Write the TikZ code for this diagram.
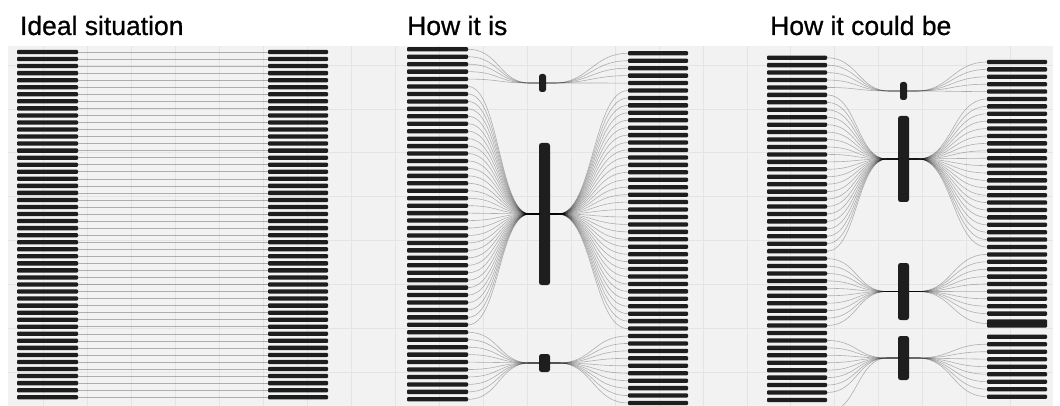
\documentclass[tikz,border=0pt]{standalone}
\usepackage{fontspec}
\setmainfont{Liberation Sans}
\newfontfamily\titlefont[FakeBold=0.7]{Liberation Sans}
\definecolor{panelbg}{HTML}{F2F2F2}
\definecolor{gridc}{HTML}{E4E4E4}
\definecolor{barc}{HTML}{1E1E1E}

\begin{document}
\begin{tikzpicture}[x=1pt,y=-1pt,
  bar/.style={rectangle, fill=barc, inner sep=0pt, outer sep=0pt,
              minimum height=4.3pt, rounded corners=1pt},
  hub/.style={rectangle, fill=barc, inner sep=0pt, outer sep=0pt,
              rounded corners=2.5pt},
  link/.style={draw=black, draw opacity=0.28, line width=0.6pt},
  title/.style={anchor=base west, inner sep=0pt,
                font=\titlefont\fontsize{26.5}{30}\selectfont}]

\useasboundingbox (0,0) rectangle (1060,406);

% backdrop and faint grid
\fill[panelbg] (8,46) rectangle (1053,406);
\foreach \k in {0,...,22}
  \draw[gridc, line width=0.8pt] ({43.7+43.95*\k},46) -- ({43.7+43.95*\k},406);
\foreach \k in {0,...,7}
  \draw[gridc, line width=0.8pt] (8,{65+43.95*\k}) -- (1053,{65+43.95*\k});

% titles
\node[title] (t1) at (19.8,35) {Ideal situation};
\node[title] (t2) at (407,35) {How it is};
\node[title] (t3) at (770,35) {How it could be};

% ---------- ideal: one-to-one ----------
\foreach \i in {1,...,50} {
  \pgfmathsetmacro\yy{52+7.045*(\i-1)}
  \node[bar, minimum width=61pt] (a-L\i) at (47.5,\yy) {};
  \node[bar, minimum width=60pt] (a-R\i) at (298,\yy) {};
  \draw[link] (a-L\i.east) -- (a-R\i.west);
}

% ---------- current: three hubs ----------
\node[hub, minimum width=7pt,  minimum height=18pt]  (b-H1) at (542.5,83)  {};
\node[hub, minimum width=11pt, minimum height=142pt] (b-H2) at (544.5,214) {};
\node[hub, minimum width=11pt, minimum height=18pt]  (b-H3) at (544.5,363) {};
\foreach \i in {1,...,48} {
  \pgfmathsetmacro\ya{49.3+7.447*(\i-1)}
  \pgfmathsetmacro\yb{53.3+7.44*(\i-1)}
  \node[bar, minimum width=61pt] (b-L\i) at (437.5,\ya) {};
  \node[bar, minimum width=60pt] (b-R\i) at (658,\yb) {};
}
\foreach \lo/\hi/\h in {1/5/1, 6/38/2, 39/48/3} {
  \foreach \i in {\lo,...,\hi} {
    \draw[link] (b-L\i.east) .. controls +(31,0) and +(-31,0)
      .. ([xshift=-9pt]b-H\h.west) -- (b-H\h.west);
    \draw[link] (b-H\h.east) -- ([xshift=8pt]b-H\h.east)
      .. controls +(35,0) and +(-35,0) .. (b-R\i.west);
  }
}

% ---------- proposed: four hubs ----------
\node[hub, minimum width=7pt,  minimum height=18pt] (c-H1) at (903.5,91)    {};
\node[hub, minimum width=11pt, minimum height=86pt] (c-H2) at (903.5,159)   {};
\node[hub, minimum width=11pt, minimum height=57pt] (c-H3) at (903.5,291.5) {};
\node[hub, minimum width=11pt, minimum height=44pt] (c-H4) at (903.5,358)   {};
\foreach \i in {1,...,47} {
  \pgfmathsetmacro\ya{57.7+7.44*(\i-1)}
  \node[bar, minimum width=60pt] (c-L\i) at (797,\ya) {};
}
\foreach \i in {1,...,35} {
  \pgfmathsetmacro\yb{62+7.4*(\i-1)}
  \node[bar, minimum width=60pt] (c-R\i) at (1017,\yb) {};
}
\node[bar, minimum width=60pt, minimum height=8.4pt] (c-R36) at (1017,323.5) {};
\foreach \i in {37,...,45} {
  \pgfmathsetmacro\yb{336.7+7.5*(\i-37)}
  \node[bar, minimum width=60pt] (c-R\i) at (1017,\yb) {};
}
\foreach \lo/\hi/\h in {1/5/1, 6/27/2, 28/37/3, 39/46/4} {
  \foreach \i in {\lo,...,\hi}
    \draw[link] (c-L\i.east) .. controls +(30,0) and +(-30,0)
      .. ([xshift=-11pt]c-H\h.west) -- (c-H\h.west);
}
\foreach \lo/\hi/\h in {1/5/1, 6/26/2, 27/36/3, 38/45/4} {
  \foreach \i in {\lo,...,\hi}
    \draw[link] (c-H\h.east) -- ([xshift=9pt]c-H\h.east)
      .. controls +(34,0) and +(-34,0) .. (c-R\i.west);
}
\coordinate (c-off) at (827,412);
\draw[link] (c-off) .. controls +(30,0) and +(-30,0)
  .. ([xshift=-11pt]c-H4.west) -- (c-H4.west);
\end{tikzpicture}
\end{document}
